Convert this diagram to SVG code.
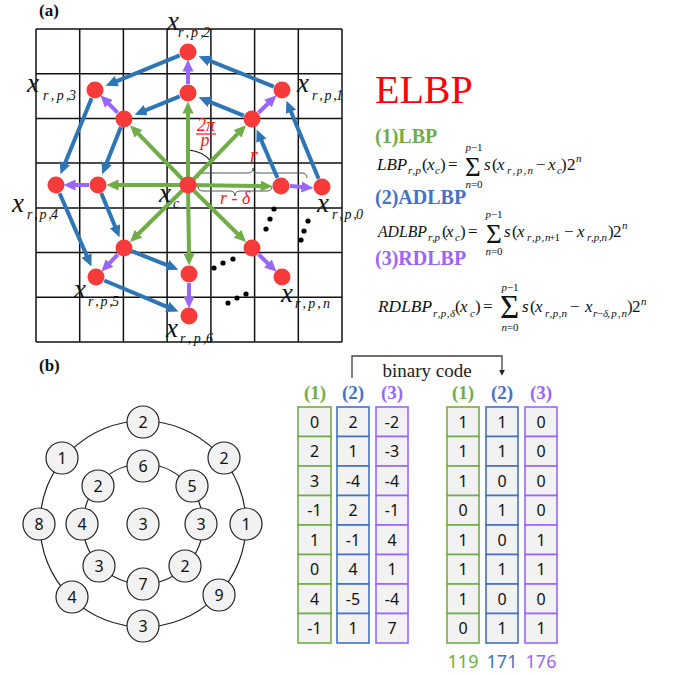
<svg xmlns="http://www.w3.org/2000/svg" width="673" height="676" viewBox="0 0 673 676">
<style>
.grid line{stroke:#111;stroke-width:1.5}
.ag{stroke:#70AD47;stroke-width:4;fill:none}
.ab{stroke:#2E75B6;stroke-width:4;fill:none}
.ap{stroke:#9966FF;stroke-width:4;fill:none}
.rn{fill:#F73B3B}
.t{font-family:"Liberation Serif","Times New Roman",serif;fill:#111}
.i{font-style:italic}
.lx{font-size:27px}
.ls{font-size:14px}
.eq{font-size:17px}
.sb{font-size:11px}
.red{fill:#FF1A1A}
.bd{font-weight:bold}
.cn circle{fill:#F2F2F2;stroke:#222;stroke-width:1.2}
.d{font-family:"Noto Sans","Open Sans",sans-serif;font-size:16px;fill:#111;text-anchor:middle}
.cg rect{fill:#F2F2F2;stroke:#70AD47;stroke-width:1.6}
.cb rect{fill:#F2F2F2;stroke:#4472C4;stroke-width:1.6}
.cp rect{fill:#F2F2F2;stroke:#9966FF;stroke-width:1.6}
</style>
<defs>
<marker id="mg" viewBox="0 -6 12 12" refX="0.5" refY="0" markerWidth="12" markerHeight="12" markerUnits="userSpaceOnUse" orient="auto"><path d="M0,-5.5 L12,0 L0,5.5 z" fill="#70AD47"/></marker>
<marker id="mb" viewBox="0 -6 12 12" refX="0.5" refY="0" markerWidth="12" markerHeight="12" markerUnits="userSpaceOnUse" orient="auto"><path d="M0,-5.5 L12,0 L0,5.5 z" fill="#2E75B6"/></marker>
<marker id="mp" viewBox="0 -6 12 12" refX="0.5" refY="0" markerWidth="12" markerHeight="12" markerUnits="userSpaceOnUse" orient="auto"><path d="M0,-5.5 L12,0 L0,5.5 z" fill="#9966FF"/></marker>
<marker id="mk" viewBox="0 -4 8 8" refX="0.5" refY="0" markerWidth="7" markerHeight="7" markerUnits="userSpaceOnUse" orient="auto"><path d="M0,-3.5 L7,0 L0,3.5 z" fill="#222"/></marker>
</defs>
<rect width="673" height="676" fill="#fff"/>

<text class="t bd" x="39" y="16" font-size="17">(a)</text>
<text class="t bd" x="39" y="371" font-size="17">(b)</text>

<g class="grid">
<line x1="36" y1="29" x2="36" y2="342"/><line x1="79.7" y1="29" x2="79.7" y2="342"/><line x1="123.4" y1="29" x2="123.4" y2="342"/><line x1="167.1" y1="29" x2="167.1" y2="342"/><line x1="210.9" y1="29" x2="210.9" y2="342"/><line x1="254.6" y1="29" x2="254.6" y2="342"/><line x1="298.3" y1="29" x2="298.3" y2="342"/><line x1="342" y1="29" x2="342" y2="342"/>
<line x1="36" y1="29" x2="342" y2="29"/><line x1="36" y1="73.7" x2="342" y2="73.7"/><line x1="36" y1="118.4" x2="342" y2="118.4"/><line x1="36" y1="163.1" x2="342" y2="163.1"/><line x1="36" y1="207.9" x2="342" y2="207.9"/><line x1="36" y1="252.6" x2="342" y2="252.6"/><line x1="36" y1="297.3" x2="342" y2="297.3"/><line x1="36" y1="342" x2="342" y2="342"/>
</g>

<g id="annotations" fill="none" stroke="#555" stroke-width="1">
<path d="M198,178 Q198,173 203,173 L248,173 Q253,173 253,168 Q253,173 258,173 L302,173 Q307,173 307,178"/>
<path d="M198,186 Q198,191 203,191 L230,191 Q235,191 235,196 Q235,191 240,191 L267,191 Q272,191 272,186"/>
<path d="M188,150 A34,34 0 0 1 211,161" stroke="#111" stroke-width="1.2"/>
</g>

<g id="connectors">
<g class="ag">
<line x1="188" y1="185" x2="261" y2="186" marker-end="url(#mg)"/>
<line x1="188" y1="185" x2="238" y2="133.4" marker-end="url(#mg)"/>
<line x1="188" y1="185" x2="188" y2="113" marker-end="url(#mg)"/>
<line x1="188" y1="185" x2="138" y2="133.4" marker-end="url(#mg)"/>
<line x1="188" y1="185" x2="118" y2="185" marker-end="url(#mg)"/>
<line x1="188" y1="185" x2="138.2" y2="234" marker-end="url(#mg)"/>
<line x1="188" y1="185" x2="189" y2="254" marker-end="url(#mg)"/>
<line x1="188" y1="185" x2="237.8" y2="234" marker-end="url(#mg)"/>
</g>
<g class="ap">
<line x1="290" y1="186" x2="302" y2="187" marker-end="url(#mp)"/>
<line x1="258.5" y1="112.7" x2="268.3" y2="103.3" marker-end="url(#mp)"/>
<line x1="188" y1="84" x2="188" y2="71" marker-end="url(#mp)"/>
<line x1="117.6" y1="112.6" x2="108.5" y2="103.5" marker-end="url(#mp)"/>
<line x1="89" y1="185" x2="75" y2="185" marker-end="url(#mp)"/>
<line x1="117.7" y1="254.5" x2="109.3" y2="263.3" marker-end="url(#mp)"/>
<line x1="189" y1="283" x2="189" y2="297" marker-end="url(#mp)"/>
<line x1="258.5" y1="254.3" x2="268.3" y2="263.8" marker-end="url(#mp)"/>
</g>
<g class="ab">
<line x1="318.6" y1="178.7" x2="290.8" y2="111.3" marker-end="url(#mb)"/>
<line x1="273.7" y1="86.6" x2="209.3" y2="60.6" marker-end="url(#mb)"/>
<line x1="179.7" y1="55.4" x2="116.3" y2="81.3" marker-end="url(#mb)"/>
<line x1="91.6" y1="98.3" x2="64.8" y2="163.7" marker-end="url(#mb)"/>
<line x1="59.6" y1="193.3" x2="86.8" y2="255.9" marker-end="url(#mb)"/>
<line x1="104.3" y1="280.5" x2="167.8" y2="307.1" marker-end="url(#mb)"/>
<line x1="277.4" y1="177.7" x2="261.2" y2="140.1" marker-end="url(#mb)"/>
<line x1="243.7" y1="115.6" x2="209.3" y2="101.6" marker-end="url(#mb)"/>
<line x1="179.7" y1="96.4" x2="145.3" y2="110.4" marker-end="url(#mb)"/>
<line x1="120.9" y1="126.9" x2="106.4" y2="163.6" marker-end="url(#mb)"/>
<line x1="101.2" y1="192.9" x2="115.2" y2="226.7" marker-end="url(#mb)"/>
<line x1="131.9" y1="251.2" x2="167.7" y2="265.4" marker-end="url(#mb)"/>
</g>
<path d="M352,378 V356 H502 V370" fill="none" stroke="#404040" stroke-width="1.3" marker-end="url(#mk)"/>
</g>

<g id="dots" fill="#000">
<circle cx="274" cy="209" r="2.6"/><circle cx="270" cy="219" r="2.6"/><circle cx="266" cy="229" r="2.6"/>
<circle cx="308" cy="221" r="2.6"/><circle cx="304" cy="231" r="2.6"/><circle cx="301" cy="240" r="2.6"/>
<circle cx="214" cy="268" r="2.6"/><circle cx="223" cy="263" r="2.6"/><circle cx="233" cy="259" r="2.6"/>
<circle cx="228" cy="303" r="2.6"/><circle cx="237" cy="298" r="2.6"/><circle cx="246" cy="294" r="2.6"/>
</g>

<g id="pixels-a">
<g id="n-c"><circle class="rn" cx="188" cy="185" r="8.5"/></g>
<g id="n-i0"><circle class="rn" cx="281" cy="186" r="8.5"/></g>
<g id="n-i1"><circle class="rn" cx="252" cy="119" r="8.5"/></g>
<g id="n-i2"><circle class="rn" cx="188" cy="93" r="8.5"/></g>
<g id="n-i3"><circle class="rn" cx="124" cy="119" r="8.5"/></g>
<g id="n-i4"><circle class="rn" cx="98" cy="185" r="8.5"/></g>
<g id="n-i5"><circle class="rn" cx="124" cy="248" r="8.5"/></g>
<g id="n-i6"><circle class="rn" cx="189" cy="274" r="8.5"/></g>
<g id="n-i7"><circle class="rn" cx="252" cy="248" r="8.5"/></g>
<g id="n-o0"><circle class="rn" cx="322" cy="187" r="8.5"/></g>
<g id="n-o1"><circle class="rn" cx="282" cy="90" r="8.5"/></g>
<g id="n-o2"><circle class="rn" cx="188" cy="52" r="8.5"/></g>
<g id="n-o3"><circle class="rn" cx="95" cy="90" r="8.5"/></g>
<g id="n-o4"><circle class="rn" cx="56" cy="185" r="8.5"/></g>
<g id="n-o5"><circle class="rn" cx="96" cy="277" r="8.5"/></g>
<g id="n-o6"><circle class="rn" cx="189" cy="316" r="8.5"/></g>
<g id="n-o7"><circle class="rn" cx="282" cy="277" r="8.5"/></g>
</g>

<g id="labels-a" class="t i">
<text class="lx" x="167" y="30">x</text><text class="ls" x="178" y="37" textLength="32" lengthAdjust="spacing">r , p ,2</text>
<text class="lx" x="27" y="92">x</text><text class="ls" x="43" y="100" textLength="33" lengthAdjust="spacing">r , p ,3</text>
<text class="lx" x="297" y="92">x</text><text class="ls" x="312" y="100" textLength="31" lengthAdjust="spacing">r , p ,1</text>
<text class="lx" x="159" y="202">x</text><text class="ls" x="173" y="208">c</text>
<text class="lx" x="12" y="212">x</text><text class="ls" x="27" y="219" textLength="31" lengthAdjust="spacing">r , p ,4</text>
<text class="lx" x="317" y="212">x</text><text class="ls" x="332" y="219" textLength="31" lengthAdjust="spacing">r , p ,0</text>
<text class="lx" x="74" y="298">x</text><text class="ls" x="88" y="306" textLength="31" lengthAdjust="spacing">r , p ,5</text>
<text class="lx" x="281" y="302">x</text><text class="ls" x="295" y="308" textLength="35" lengthAdjust="spacing">r , p , n</text>
<text class="lx" x="166" y="337">x</text><text class="ls" x="180" y="343" textLength="33" lengthAdjust="spacing">r , p ,6</text>
<text class="red" font-size="18" x="206" y="131" text-anchor="middle">2π</text>
<line x1="196" y1="134" x2="216" y2="134" stroke="#FF1A1A" stroke-width="1.2"/>
<text class="red" font-size="18" x="205" y="146" text-anchor="middle">p</text>
<text class="red" font-size="20" x="250" y="162">r</text>
<text class="red" font-size="18" x="220" y="204">r - δ</text>
</g>

<g id="title">
<text class="t" x="375" y="103" font-size="40" style="fill:#FF0000">ELBP</text>
<text class="t bd" x="375" y="143" font-size="20" style="fill:#70AD47">(1)LBP</text>
<text class="t bd" x="375" y="204" font-size="20" style="fill:#4472C4">(2)ADLBP</text>
<text class="t bd" x="375" y="265" font-size="20" style="fill:#9966FF">(3)RDLBP</text>
</g>

<g id="eq-lbp" class="t eq">
<text class="i" x="377" y="170">LBP</text>
<text class="i sb" x="408" y="174" textLength="13" lengthAdjust="spacing">r , p</text>
<text x="422" y="170">(</text><text class="i" x="427" y="170">x</text><text class="i sb" x="435" y="174">c</text><text x="440" y="170">)</text>
<text x="448" y="170">=</text>
<text x="465" y="176" font-size="27">Σ</text>
<text class="sb" x="474" y="151" text-anchor="middle"><tspan class="i">p</tspan>−1</text>
<text class="sb" x="474" y="188" text-anchor="middle"><tspan class="i">n</tspan>=0</text>
<text class="i" x="484" y="170">s</text><text x="492" y="170">(</text><text class="i" x="497" y="170">x</text>
<text class="i sb" x="507" y="174" textLength="26" lengthAdjust="spacing">r , p , n</text>
<text x="536" y="170">−</text><text class="i" x="548" y="170">x</text><text class="i sb" x="557" y="174">c</text>
<text x="561" y="170">)</text><text x="567" y="170">2</text><text class="i sb" x="576" y="162">n</text>
</g>

<g id="eq-adlbp" class="t eq">
<text class="i" x="378" y="237" textLength="49" lengthAdjust="spacingAndGlyphs">ADLBP</text>
<text class="i sb" x="428" y="241" textLength="12" lengthAdjust="spacing">r , p</text>
<text x="442" y="237">(</text><text class="i" x="446" y="237">x</text><text class="i sb" x="455" y="241">c</text><text x="460" y="237">)</text>
<text x="468" y="237">=</text>
<text x="486" y="243" font-size="27">Σ</text>
<text class="sb" x="494" y="218" text-anchor="middle"><tspan class="i">p</tspan>−1</text>
<text class="sb" x="494" y="255" text-anchor="middle"><tspan class="i">n</tspan>=0</text>
<text class="i" x="504" y="237">s</text><text x="512" y="237">(</text><text class="i" x="517" y="237">x</text>
<text class="sb" x="527" y="241" textLength="33" lengthAdjust="spacing"><tspan class="i">r , p , n</tspan>+1</text>
<text x="564" y="237">−</text><text class="i" x="577" y="237">x</text>
<text class="i sb" x="587" y="241" textLength="20" lengthAdjust="spacing">r , p , n</text>
<text x="608" y="237">)</text><text x="613" y="237">2</text><text class="i sb" x="622" y="229">n</text>
</g>

<g id="eq-rdlbp" class="t eq">
<text class="i" x="378" y="312" textLength="54" lengthAdjust="spacingAndGlyphs">RDLBP</text>
<text class="i sb" x="433" y="317" textLength="22" lengthAdjust="spacing">r , p , δ</text>
<text x="455" y="312">(</text><text class="i" x="460" y="312">x</text><text class="i sb" x="470" y="317">c</text><text x="475" y="312">)</text>
<text x="483" y="312">=</text>
<text x="500" y="318" font-size="33">Σ</text>
<text class="sb" x="510" y="291" text-anchor="middle"><tspan class="i">p</tspan>−1</text>
<text class="sb" x="510" y="331" text-anchor="middle"><tspan class="i">n</tspan>=0</text>
<text class="i" x="522" y="312">s</text><text x="530" y="312">(</text><text class="i" x="535" y="312">x</text>
<text class="i sb" x="545" y="317" textLength="22" lengthAdjust="spacing">r , p , n</text>
<text x="570" y="312">−</text><text class="i" x="585" y="312">x</text>
<text class="i sb" x="593" y="317" textLength="34" lengthAdjust="spacing">r−δ, p , n</text>
<text x="627" y="312">)</text><text x="632" y="312">2</text><text class="i sb" x="641" y="305">n</text>
</g>

<g id="rings" fill="none" stroke="#222" stroke-width="1.2">
<circle cx="143" cy="524" r="103"/>
<circle cx="143" cy="524" r="60"/>
</g>
<g id="pixels-b" class="cn">
<g id="b-o0"><circle cx="143" cy="422" r="16"/><text class="d" x="143" y="428">2</text></g>
<g id="b-o1"><circle cx="62" cy="458" r="16"/><text class="d" x="62" y="464">1</text></g>
<g id="b-o2"><circle cx="224" cy="458" r="16"/><text class="d" x="224" y="464">2</text></g>
<g id="b-o3"><circle cx="39" cy="524" r="16"/><text class="d" x="39" y="530">8</text></g>
<g id="b-o4"><circle cx="246" cy="524" r="16"/><text class="d" x="246" y="530">1</text></g>
<g id="b-o5"><circle cx="72" cy="597" r="16"/><text class="d" x="72" y="603">4</text></g>
<g id="b-o6"><circle cx="219" cy="595" r="16"/><text class="d" x="219" y="601">9</text></g>
<g id="b-o7"><circle cx="143" cy="626" r="16"/><text class="d" x="143" y="632">3</text></g>
<g id="b-i0"><circle cx="143" cy="466" r="16"/><text class="d" x="143" y="472">6</text></g>
<g id="b-i1"><circle cx="98" cy="486" r="16"/><text class="d" x="98" y="492">2</text></g>
<g id="b-i2"><circle cx="192" cy="486" r="16"/><text class="d" x="192" y="492">5</text></g>
<g id="b-i3"><circle cx="82" cy="524" r="16"/><text class="d" x="82" y="530">4</text></g>
<g id="b-i4"><circle cx="201" cy="524" r="16"/><text class="d" x="201" y="530">3</text></g>
<g id="b-i5"><circle cx="99" cy="566" r="16"/><text class="d" x="99" y="572">3</text></g>
<g id="b-i6"><circle cx="185" cy="566" r="16"/><text class="d" x="185" y="572">2</text></g>
<g id="b-i7"><circle cx="143" cy="584" r="16"/><text class="d" x="143" y="590">7</text></g>
<g id="b-c"><circle cx="143" cy="524" r="16"/><text class="d" x="143" y="530">3</text></g>
</g>

<g id="headers" class="t bd" font-size="19" text-anchor="middle">
<text x="315" y="399" style="fill:#70AD47">(1)</text>
<text x="353" y="399" style="fill:#4472C4">(2)</text>
<text x="392" y="399" style="fill:#9966FF">(3)</text>
<text x="463" y="399" style="fill:#70AD47">(1)</text>
<text x="502" y="399" style="fill:#4472C4">(2)</text>
<text x="541" y="399" style="fill:#9966FF">(3)</text>
</g>
<text class="t" x="427" y="377" font-size="19" text-anchor="middle" style="fill:#222">binary code</text>

<g id="col-l1" class="cg">
<rect x="298" y="407" width="33" height="29.5"/><rect x="298" y="436.5" width="33" height="29.5"/><rect x="298" y="466" width="33" height="29.5"/><rect x="298" y="495.5" width="33" height="29.5"/><rect x="298" y="525" width="33" height="29.5"/><rect x="298" y="554.5" width="33" height="29.5"/><rect x="298" y="584" width="33" height="29.5"/><rect x="298" y="613.5" width="33" height="29.5"/>
<text class="d" x="314.5" y="427.5">0</text><text class="d" x="314.5" y="457">2</text><text class="d" x="314.5" y="486.5">3</text><text class="d" x="314.5" y="516">-1</text><text class="d" x="314.5" y="545.5">1</text><text class="d" x="314.5" y="575">0</text><text class="d" x="314.5" y="604.5">4</text><text class="d" x="314.5" y="634">-1</text>
</g>
<g id="col-l2" class="cb">
<rect x="337" y="407" width="32" height="29.5"/><rect x="337" y="436.5" width="32" height="29.5"/><rect x="337" y="466" width="32" height="29.5"/><rect x="337" y="495.5" width="32" height="29.5"/><rect x="337" y="525" width="32" height="29.5"/><rect x="337" y="554.5" width="32" height="29.5"/><rect x="337" y="584" width="32" height="29.5"/><rect x="337" y="613.5" width="32" height="29.5"/>
<text class="d" x="353" y="427.5">2</text><text class="d" x="353" y="457">1</text><text class="d" x="353" y="486.5">-4</text><text class="d" x="353" y="516">2</text><text class="d" x="353" y="545.5">-1</text><text class="d" x="353" y="575">4</text><text class="d" x="353" y="604.5">-5</text><text class="d" x="353" y="634">1</text>
</g>
<g id="col-l3" class="cp">
<rect x="376" y="407" width="32" height="29.5"/><rect x="376" y="436.5" width="32" height="29.5"/><rect x="376" y="466" width="32" height="29.5"/><rect x="376" y="495.5" width="32" height="29.5"/><rect x="376" y="525" width="32" height="29.5"/><rect x="376" y="554.5" width="32" height="29.5"/><rect x="376" y="584" width="32" height="29.5"/><rect x="376" y="613.5" width="32" height="29.5"/>
<text class="d" x="392" y="427.5">-2</text><text class="d" x="392" y="457">-3</text><text class="d" x="392" y="486.5">-4</text><text class="d" x="392" y="516">-1</text><text class="d" x="392" y="545.5">4</text><text class="d" x="392" y="575">1</text><text class="d" x="392" y="604.5">-4</text><text class="d" x="392" y="634">7</text>
</g>
<g id="col-r1" class="cg">
<rect x="447" y="407" width="32" height="29.5"/><rect x="447" y="436.5" width="32" height="29.5"/><rect x="447" y="466" width="32" height="29.5"/><rect x="447" y="495.5" width="32" height="29.5"/><rect x="447" y="525" width="32" height="29.5"/><rect x="447" y="554.5" width="32" height="29.5"/><rect x="447" y="584" width="32" height="29.5"/><rect x="447" y="613.5" width="32" height="29.5"/>
<text class="d" x="463" y="427.5">1</text><text class="d" x="463" y="457">1</text><text class="d" x="463" y="486.5">1</text><text class="d" x="463" y="516">0</text><text class="d" x="463" y="545.5">1</text><text class="d" x="463" y="575">1</text><text class="d" x="463" y="604.5">1</text><text class="d" x="463" y="634">0</text>
</g>
<g id="col-r2" class="cb">
<rect x="486" y="407" width="32" height="29.5"/><rect x="486" y="436.5" width="32" height="29.5"/><rect x="486" y="466" width="32" height="29.5"/><rect x="486" y="495.5" width="32" height="29.5"/><rect x="486" y="525" width="32" height="29.5"/><rect x="486" y="554.5" width="32" height="29.5"/><rect x="486" y="584" width="32" height="29.5"/><rect x="486" y="613.5" width="32" height="29.5"/>
<text class="d" x="502" y="427.5">1</text><text class="d" x="502" y="457">1</text><text class="d" x="502" y="486.5">0</text><text class="d" x="502" y="516">1</text><text class="d" x="502" y="545.5">0</text><text class="d" x="502" y="575">1</text><text class="d" x="502" y="604.5">0</text><text class="d" x="502" y="634">1</text>
</g>
<g id="col-r3" class="cp">
<rect x="525" y="407" width="32" height="29.5"/><rect x="525" y="436.5" width="32" height="29.5"/><rect x="525" y="466" width="32" height="29.5"/><rect x="525" y="495.5" width="32" height="29.5"/><rect x="525" y="525" width="32" height="29.5"/><rect x="525" y="554.5" width="32" height="29.5"/><rect x="525" y="584" width="32" height="29.5"/><rect x="525" y="613.5" width="32" height="29.5"/>
<text class="d" x="541" y="427.5">0</text><text class="d" x="541" y="457">0</text><text class="d" x="541" y="486.5">0</text><text class="d" x="541" y="516">0</text><text class="d" x="541" y="545.5">1</text><text class="d" x="541" y="575">1</text><text class="d" x="541" y="604.5">0</text><text class="d" x="541" y="634">1</text>
</g>

<g id="totals" font-family="Noto Sans, Open Sans, sans-serif" font-size="18" text-anchor="middle">
<text x="463" y="668" fill="#70AD47">119</text>
<text x="502" y="668" fill="#4472C4">171</text>
<text x="541" y="668" fill="#9966FF">176</text>
</g>
</svg>
